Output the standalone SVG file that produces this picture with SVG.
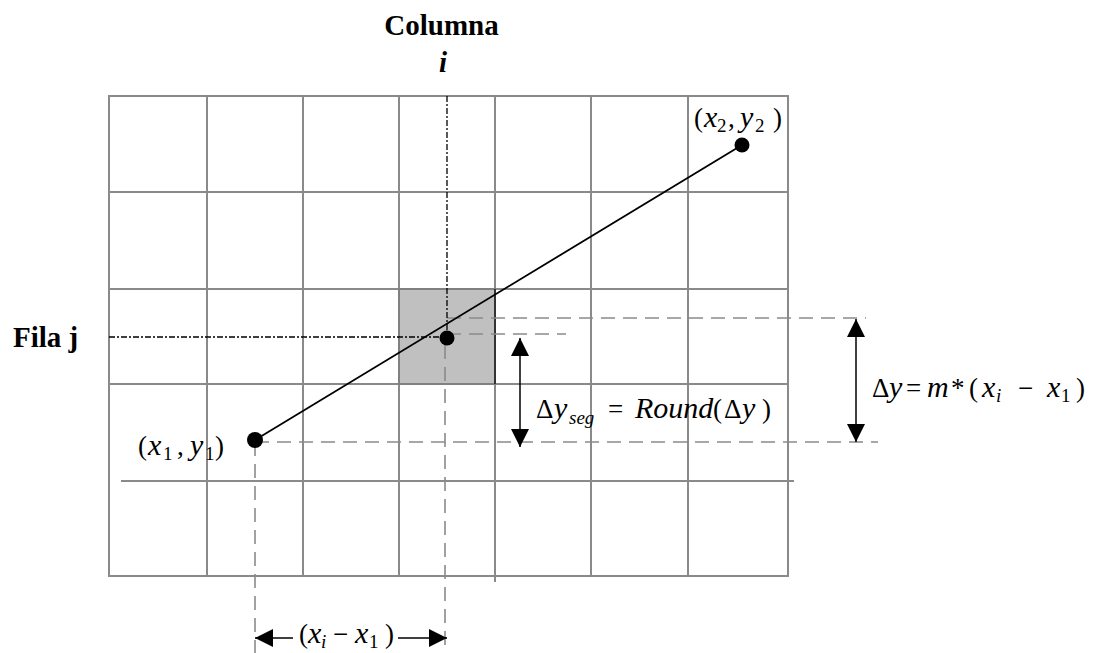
<svg xmlns="http://www.w3.org/2000/svg" width="1101" height="653" viewBox="0 0 1101 653">
<style>
.grid{stroke:#8a8a8a;stroke-width:2;fill:none}
.gd{stroke:#8a8a8a;stroke-width:1.6;stroke-dasharray:14 8;fill:none}
.bd{stroke:#000;stroke-width:1.3;stroke-dasharray:6 2 2 2;fill:none}
.ln{stroke:#000;stroke-width:1.8;fill:none}
.ar{stroke:#000;stroke-width:1.5;fill:none;marker-end:url(#ah)}
.ar2{stroke:#000;stroke-width:1.5;fill:none;marker-start:url(#ah);marker-end:url(#ah)}
.bt{font-weight:bold;font-size:29px;fill:#000}
.m{font-size:27px;fill:#000}
.it{font-style:italic;font-size:30px}
.sb{font-size:19px}
</style>
<defs>
<marker id="ah" viewBox="0 0 18 18" refX="18" refY="9" markerWidth="18" markerHeight="18" markerUnits="userSpaceOnUse" orient="auto-start-reverse"><path d="M0,0 L18,9 L0,18 z" fill="#000"/></marker>
</defs>
<rect width="1101" height="653" fill="#fff"/>
<g id="grid">
<rect class="grid" x="109" y="96" width="679" height="480"/>
<path class="grid" d="M207,96V576M303,96V576M399,96V576M591,96V576M688,96V576M495,96V582M109,192H788M109,289H788M109,384H788M121,481H794"/>
</g>
<g id="cell">
<rect x="399" y="289" width="96" height="95" fill="#c0c0c0" stroke="#808080" stroke-width="2"/>
<line x1="495" y1="289" x2="495" y2="384" stroke="#333" stroke-width="2"/>
</g>
<g id="connectors">
<path class="gd" d="M255,442H878M447,318H866M447,334H566M255,442V653M445,345V653"/>
<path class="bd" d="M447,96V338M109,337H447"/>
<line class="ln" x1="255" y1="440" x2="742" y2="145"/>
<line class="ar2" x1="520" y1="338" x2="520" y2="447"/>
<line class="ar2" x1="856" y1="319" x2="856" y2="442"/>
<line class="ar" x1="293" y1="638" x2="255" y2="638"/>
<line class="ar" x1="398" y1="638" x2="447" y2="638"/>
</g>
<g font-family="'Liberation Serif','Times New Roman',Times,serif">
<g id="p1"><circle cx="255" cy="440" r="8" fill="#000"/>
<text class="m" y="455"><tspan x="138">(</tspan><tspan class="it" x="148">x</tspan><tspan class="sb" x="163" dy="5">1</tspan><tspan x="177" dy="-5">,</tspan><tspan class="it" x="190">y</tspan><tspan class="sb" x="205" dy="5">1</tspan><tspan x="215" dy="-5">)</tspan></text></g>
<g id="p2"><circle cx="742" cy="145" r="7.5" fill="#000"/>
<text class="m" y="127"><tspan x="694">(</tspan><tspan class="it" x="704">x</tspan><tspan class="sb" x="717" dy="5">2</tspan><tspan x="728" dy="-5">,</tspan><tspan class="it" x="740">y</tspan><tspan class="sb" x="755" dy="5">2</tspan><tspan x="773" dy="-5">)</tspan></text></g>
<g id="pm"><circle cx="447" cy="338" r="7.5" fill="#000"/></g>
<g id="labels">
<text class="bt" x="441.5" y="35" text-anchor="middle">Columna</text>
<text class="bt" x="443" y="72" text-anchor="middle" font-style="italic">i</text>
<text class="bt" x="13" y="347">Fila j</text>
<text class="m" y="418"><tspan x="536">Δ</tspan><tspan class="it" x="554">y</tspan><tspan class="it sb" x="569" dy="6">seg</tspan><tspan x="608" dy="-6">=</tspan><tspan class="it" x="635">Round</tspan><tspan x="713">(</tspan><tspan x="724">Δ</tspan><tspan class="it" x="742">y</tspan><tspan x="762">)</tspan></text>
<text class="m" y="397"><tspan x="872">Δ</tspan><tspan class="it" x="889">y</tspan><tspan x="906">=</tspan><tspan class="it" x="927">m</tspan><tspan x="951">*</tspan><tspan x="969">(</tspan><tspan class="it" x="982">x</tspan><tspan class="it sb" x="996" dy="5">i</tspan><tspan x="1018" dy="-5">−</tspan><tspan class="it" x="1047">x</tspan><tspan class="sb" x="1061" dy="5">1</tspan><tspan x="1076" dy="-5">)</tspan></text>
<text class="m" y="643"><tspan x="299">(</tspan><tspan class="it" x="308">x</tspan><tspan class="it sb" x="321" dy="5">i</tspan><tspan x="333" dy="-5">−</tspan><tspan class="it" x="355">x</tspan><tspan class="sb" x="369" dy="5">1</tspan><tspan x="385" dy="-5">)</tspan></text>
</g>
</g>
</svg>
